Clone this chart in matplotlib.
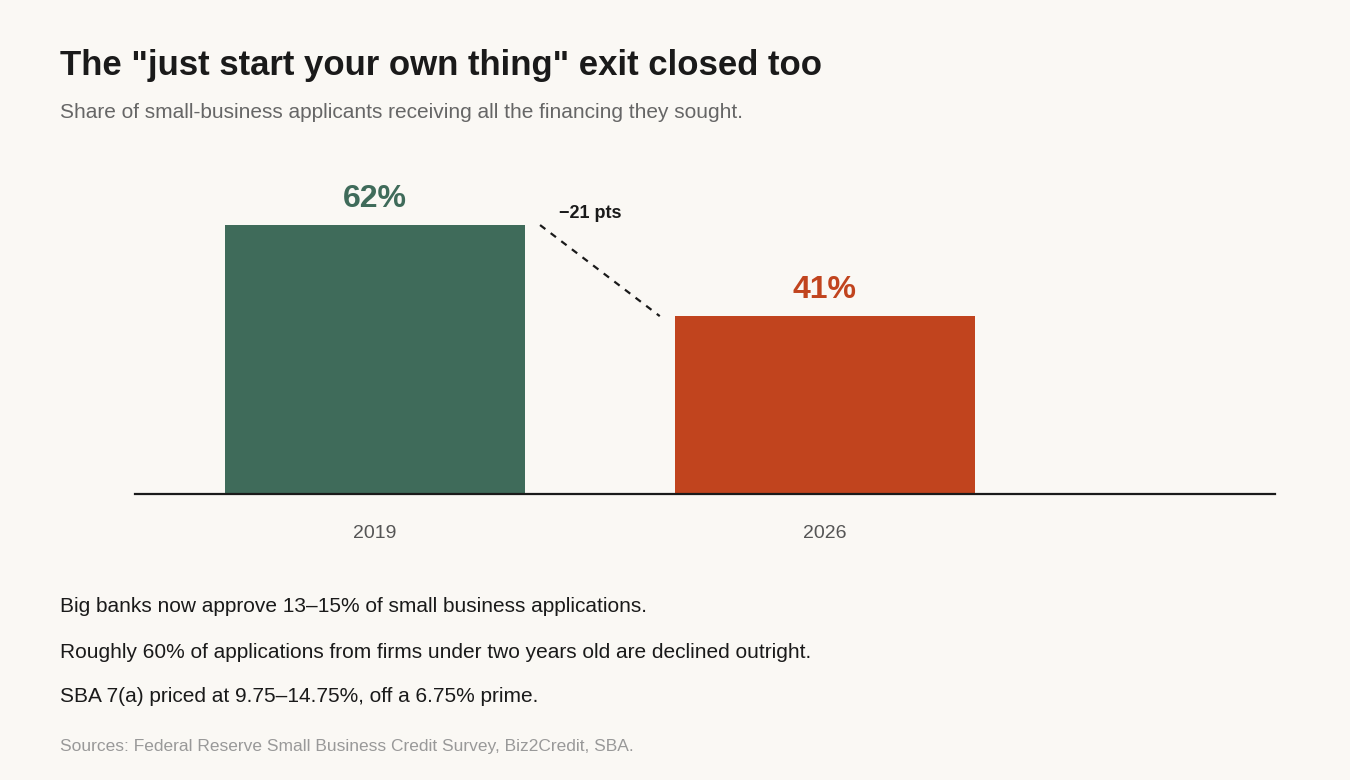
import matplotlib
matplotlib.use("Agg")
import matplotlib.pyplot as plt

plt.rcParams["font.family"] = ["Liberation Sans", "DejaVu Sans"]

years = ["2019", "2026"]
shares = [62, 41]
colors = ["#3f6b5a", "#c1441e"]
notes = [
    "Big banks now approve 13\u201315% of small business applications.",
    "Roughly 60% of applications from firms under two years old are declined outright.",
    "SBA 7(a) priced at 9.75\u201314.75%, off a 6.75% prime.",
]
source = "Sources: Federal Reserve Small Business Credit Survey, Biz2Credit, SBA."

W, H = 1350, 780
bg = "#faf8f4"
fig = plt.figure(figsize=(W / 100, H / 100), dpi=100, facecolor=bg)
ax = fig.add_axes([135 / W, 1 - 494 / H, 1140 / W, 344 / H], facecolor=bg)

x = list(range(len(years)))
ax.bar(x, shares, width=0.667, color=colors)
for xi, v, c in zip(x, shares, colors):
    ax.text(xi, v + 2.5, f"{v}%", ha="center", va="bottom", fontsize=23,
            fontweight="bold", color=c)

ax.plot([0.367, 0.633], [shares[0], shares[1]], ls=(0, (3, 3)), color="#1a1a1a", lw=1.6)
ax.text(0.41, shares[0] + 0.8, f"\u2212{shares[0] - shares[1]} pts", fontsize=13,
        fontweight="bold", color="#1a1a1a", va="bottom")

ax.set_xlim(-0.533, 2.0)
ax.set_ylim(0, 79.3)
ax.set_xticks(x)
ax.set_xticklabels(years, fontsize=14, color="#555555")
ax.tick_params(axis="x", length=0, pad=22)
ax.set_yticks([])
for s in ["top", "right", "left"]:
    ax.spines[s].set_visible(False)
ax.spines["bottom"].set_color("#1a1a1a")
ax.spines["bottom"].set_linewidth(1.6)

fig.text(60 / W, 1 - 65 / H, 'The "just start your own thing" exit closed too',
         fontsize=25, fontweight="bold", color="#1a1a1a", va="center")
fig.text(60 / W, 1 - 112 / H, "Share of small-business applicants receiving all the financing they sought.",
         fontsize=15, color="#666666", va="center")
for i, n in enumerate(notes):
    fig.text(60 / W, 1 - (607 + 45 * i) / H, n, fontsize=15, color="#1a1a1a", va="center")
fig.text(60 / W, 1 - 746 / H, source, fontsize=12.5, color="#999999", va="center")

fig.savefig("out.png", dpi=100, facecolor=bg)
